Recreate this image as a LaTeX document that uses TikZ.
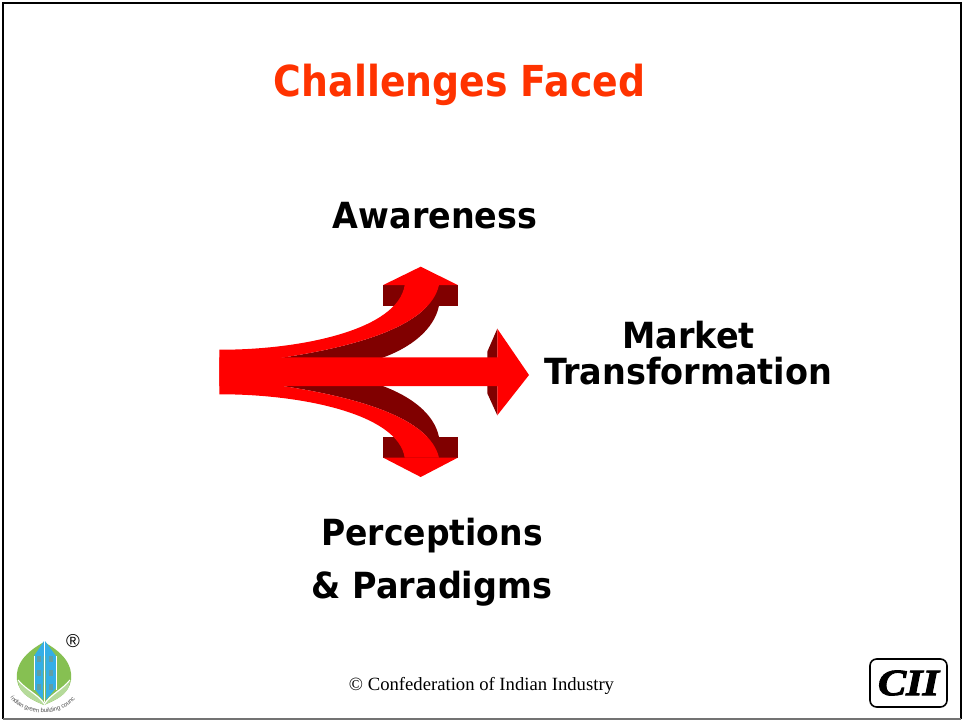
\documentclass[tikz,border=0pt]{standalone}
\usepackage{fontspec}
\setmainfont{DejaVu Sans}
\newfontfamily\serifface{Liberation Serif}
\newfontfamily\armface{Liberation Sans}
\newfontfamily\ciiface[BoldItalicFeatures={FakeBold=2.5}]{Liberation Serif}
\usetikzlibrary{decorations.text}
\definecolor{titlered}{HTML}{FF3300}
\definecolor{arrowred}{HTML}{FF0000}
\definecolor{arrowdark}{HTML}{800000}
\definecolor{leafgreen}{HTML}{86C052}
\definecolor{leaflight}{HTML}{B5DA9A}
\definecolor{towerblue}{HTML}{35AEE6}
\definecolor{windowgreen}{HTML}{5F9FA8}
\tikzset{
  label/.style={font=\fontsize{27}{27}\selectfont\bfseries,inner sep=0pt,text=black},
  titletext/.style={font=\fontsize{32}{32}\selectfont\bfseries,inner sep=0pt,text=titlered},
  redfill/.style={fill=arrowred,draw=none},
  darkfill/.style={fill=arrowdark,draw=none}
}
\begin{document}
\begin{tikzpicture}[x=0.75pt,y=-0.75pt]
\useasboundingbox (0,0) rectangle (964,721);
\fill[white] (0,0) rectangle (964,721);
% frame
\draw[line width=2pt,black] (3,719) -- (3,3) -- (961,3) -- (961,719);
\draw[line width=1.5pt,black!55] (3,719) -- (961,719);
% title
\node[titletext] (title) at (459.5,84.5) {\scalebox{.886}[1]{Challenges Faced}};
% dark parts, upper
\fill[darkfill] (383.3,285) rectangle (457.7,305.7);
\fill[darkfill] (280,358) .. controls (360,346) and (430,325) .. (439,285)
  -- (439,305.7) .. controls (434,330) and (410,348) .. (381.7,358) -- cycle;
% dark parts, lower
\fill[darkfill] (383.3,437) rectangle (457.7,457.7);
\fill[darkfill] (280,385.6) .. controls (360,397.6) and (430,418.6) .. (439,457.7)
  -- (439,437) .. controls (434,413) and (410,396) .. (381.7,385.6) -- cycle;
% dark side of the right head
\fill[darkfill] (497.3,328.7) -- (487.3,351.7) -- (487.3,393.3) -- (497.3,415.3) -- cycle;
% red parts
\fill[redfill] (420.7,266.7) -- (457.7,285) -- (383.3,285) -- cycle;
\fill[redfill] (420.7,477) -- (457.7,457.7) -- (383.3,457.7) -- cycle;
\fill[redfill] (219.3,349.7) .. controls (300,350) and (398,330) .. (404.7,285)
  -- (439,285) .. controls (430,325) and (360,346) .. (280,358) -- (280,385.6)
  .. controls (360,397.6) and (430,418.6) .. (439,457.7)
  -- (404.7,457.7) .. controls (398,413.6) and (300,394) .. (219.3,394.3) -- cycle;
\fill[redfill] (219.3,357.3) -- (497.3,357.3) -- (497.3,328.7) -- (529,375) -- (497.3,415.3) -- (497.3,386) -- (219.3,386) -- cycle;
% labels
\node[label] (aw) at (435,216) {\scalebox{.927}[1]{Awareness}};
\node[label] (mk) at (688.5,335) {\scalebox{.93}[1]{Market}};
\node[label] (tr) at (688,371) {\scalebox{.93}[1]{Transformation}};
\node[label] (pe) at (432,536) {\scalebox{.917}[1]{Perceptions}};
\node[label] (pa) at (432,589) {\scalebox{.93}[1]{\& Paradigms}};
% footer
\node[font=\serifface\fontsize{14}{14}\selectfont,inner sep=0pt] (foot) at (481.5,685.5) {© Confederation of Indian Industry};
% logo
\fill[leafgreen] (44,642) .. controls (26,652) and (15,664) .. (17,680) .. controls (19,694) and (32,700) .. (44,705)
  .. controls (56,700) and (69,694) .. (71,680) .. controls (73,664) and (62,652) .. (44,642) -- cycle;
\fill[leaflight] (18,682) .. controls (26,690) and (38,694) .. (44,704) .. controls (50,694) and (62,690) .. (70,682)
  .. controls (68,696) and (54,700) .. (44,705) .. controls (34,700) and (20,696) .. (18,682) -- cycle;
\fill[towerblue] (44,641) -- (34,656) -- (34,688) -- (43,700) -- cycle;
\fill[towerblue] (45,641) -- (56,656) -- (56,688) -- (46,700) -- cycle;
\draw[white,line width=.9pt] (44.5,641) -- (44.5,702);
\draw[white,line width=.7pt] (34,656) -- (34,690) (56,656) -- (56,690);
\draw[white,line width=.9pt] (18,680) .. controls (26,690) and (38,694) .. (44.5,704) .. controls (51,694) and (62,690) .. (70,680);
\foreach \yy in {656,670,684} {
  \fill[windowgreen] (37,\yy) rectangle +(3.5,6);
  \fill[windowgreen] (49,\yy) rectangle +(3.5,6);
}
\path[decorate,decoration={text along path,text={|\armface\fontsize{4.5}{4.5}\selectfont\color{black!70}|indian green building council},text align=center}]
  (12,700) .. controls (25,716) and (60,718) .. (75,699);
\node[font=\armface\fontsize{14}{14}\selectfont,inner sep=0pt] (reg) at (73,641) {®};
% CII
\draw[line width=1.2pt,rounded corners=5pt] (870,659) rectangle (947,707);
\node[font=\ciiface\fontsize{34}{34}\selectfont\bfseries\itshape,inner sep=0pt] (cii) at (908.5,683) {\scalebox{.93}[.82]{CII}};
\end{tikzpicture}
\end{document}
